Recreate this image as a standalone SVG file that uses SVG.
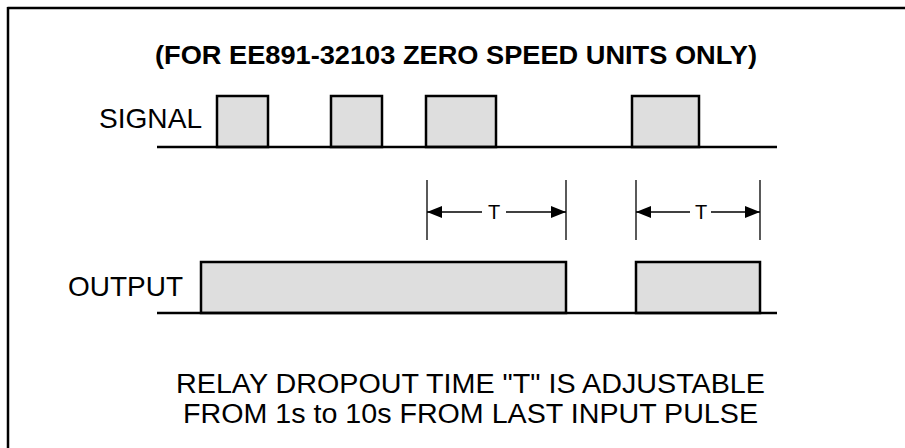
<svg xmlns="http://www.w3.org/2000/svg" width="905" height="448" viewBox="0 0 905 448">
<style>
.t{font-family:"Liberation Sans",Arial,sans-serif;fill:#000}
.pulse{fill:#dedede;stroke:#000;stroke-width:2.5}
.base{stroke:#000;stroke-width:2.5;fill:none}
.dim{stroke:#000;stroke-width:1.3;fill:none}
</style>
<defs>
<marker id="ah" viewBox="0 0 15 12" refX="15" refY="6" markerWidth="15" markerHeight="12" markerUnits="userSpaceOnUse" orient="auto-start-reverse">
<path d="M0,0 L15,6 L0,12 Z" fill="#000"/>
</marker>
</defs>
<rect width="905" height="448" fill="#fff"/>
<g id="frame">
<line x1="7.5" y1="8" x2="905" y2="8" stroke="#000" stroke-width="2.5"/>
<line x1="8" y1="7" x2="8" y2="448" stroke="#000" stroke-width="2.5"/>
</g>
<g id="title"><text class="t" x="155" y="64" font-size="26.5" font-weight="bold" textLength="602" lengthAdjust="spacingAndGlyphs">(FOR EE891-32103 ZERO SPEED UNITS ONLY)</text></g>
<g id="signal">
<text class="t" x="99" y="127.5" font-size="28" textLength="103" lengthAdjust="spacingAndGlyphs">SIGNAL</text>
<rect class="pulse" x="217" y="96" width="51" height="51"/>
<rect class="pulse" x="331" y="96" width="51" height="51"/>
<rect class="pulse" x="426" y="96" width="70" height="51"/>
<rect class="pulse" x="632" y="96" width="67" height="51"/>
<line class="base" x1="157" y1="147" x2="777" y2="147"/>
</g>
<g id="output">
<text class="t" x="68" y="296" font-size="28" textLength="115" lengthAdjust="spacingAndGlyphs">OUTPUT</text>
<rect class="pulse" x="201" y="262" width="365" height="51"/>
<rect class="pulse" x="636" y="262" width="124" height="51"/>
<line class="base" x1="157" y1="313" x2="777" y2="313"/>
</g>
<g id="connectors">
<line class="dim" x1="427" y1="180" x2="427" y2="240"/>
<line class="dim" x1="566" y1="180" x2="566" y2="240"/>
<line class="dim" x1="482" y1="212" x2="427" y2="212" marker-end="url(#ah)"/>
<line class="dim" x1="506" y1="212" x2="566" y2="212" marker-end="url(#ah)"/>
<line class="dim" x1="636" y1="180" x2="636" y2="240"/>
<line class="dim" x1="760" y1="180" x2="760" y2="240"/>
<line class="dim" x1="690" y1="212" x2="636" y2="212" marker-end="url(#ah)"/>
<line class="dim" x1="711" y1="212" x2="760" y2="212" marker-end="url(#ah)"/>
</g>
<g id="t1"><text class="t" x="494" y="219" font-size="20" text-anchor="middle">T</text></g>
<g id="t2"><text class="t" x="701" y="219" font-size="20" text-anchor="middle">T</text></g>
<g id="note">
<text class="t" x="176" y="393" font-size="27" textLength="589" lengthAdjust="spacingAndGlyphs">RELAY DROPOUT TIME "T" IS ADJUSTABLE</text>
<text class="t" x="183" y="423" font-size="27" textLength="575" lengthAdjust="spacingAndGlyphs">FROM 1s to 10s FROM LAST INPUT PULSE</text>
</g>
</svg>
